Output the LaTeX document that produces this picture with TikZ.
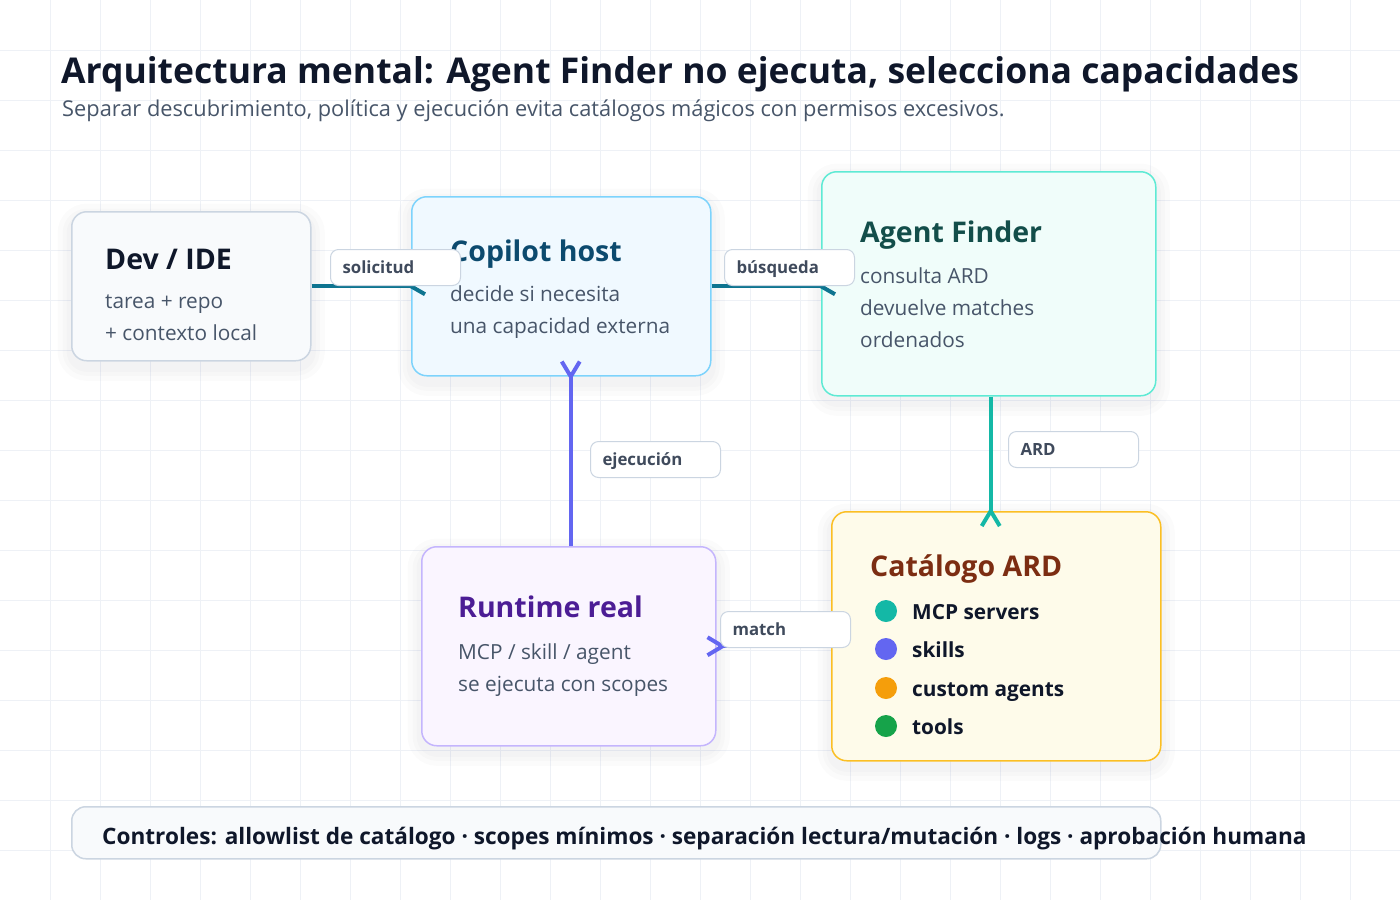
\documentclass[tikz,border=0pt]{standalone}
\usepackage{fontspec}
\setmainfont{Open Sans}
\definecolor{gridc}{HTML}{EEF1F6}
\definecolor{ink}{HTML}{0F172A}
\definecolor{muted}{HTML}{475569}
\definecolor{lblink}{HTML}{3F4A5C}
\definecolor{bord}{HTML}{CBD5E1}
\definecolor{devfill}{HTML}{F8FAFC}
\definecolor{copfill}{HTML}{F0F9FF}
\definecolor{copbord}{HTML}{7DD3FC}
\definecolor{coptitle}{HTML}{0C4A6E}
\definecolor{affill}{HTML}{F0FDFA}
\definecolor{afbord}{HTML}{5EEAD4}
\definecolor{aftitle}{HTML}{134E4A}
\definecolor{rtfill}{HTML}{FAF5FF}
\definecolor{rtbord}{HTML}{C4B5FD}
\definecolor{rttitle}{HTML}{4C1D95}
\definecolor{catfill}{HTML}{FEFBEA}
\definecolor{catbord}{HTML}{FBBF24}
\definecolor{cattitle}{HTML}{7C2D12}
\definecolor{cdark}{HTML}{0E7490}
\definecolor{cindigo}{HTML}{6366F1}
\definecolor{cteal}{HTML}{14B8A6}
\definecolor{camber}{HTML}{F59E0B}
\definecolor{cgreen}{HTML}{16A34A}
\definecolor{shade}{HTML}{1E293B}
\tikzset{
  box/.style={draw, line width=1.5pt, rounded corners=15pt, anchor=north west, inner sep=0pt},
  soft/.style={
    preaction={draw=shade, draw opacity=0.015, line width=28pt, transform canvas={yshift=-6pt}},
    preaction={draw=shade, draw opacity=0.015, line width=18pt, transform canvas={yshift=-6pt}},
    preaction={draw=shade, draw opacity=0.015, line width=10pt, transform canvas={yshift=-6pt}}},
  btitle/.style={anchor=base west, inner sep=0pt, font=\fontsize{28.5}{34}\selectfont\bfseries},
  bbody/.style={anchor=base west, inner sep=0pt, text=muted, font=\fontsize{20.8}{25}\selectfont},
  item/.style={anchor=base west, inner sep=0pt, text=ink, font=\fontsize{20.8}{25}\selectfont\bfseries},
  dot/.style={circle, minimum size=22pt, inner sep=0pt},
  lbl/.style={draw=bord, fill=white, line width=1pt, rounded corners=8pt, anchor=north west,
    text width=106pt, minimum height=36pt, inner xsep=12pt, inner ysep=0pt, align=left,
    text height=13pt, text depth=1pt,
    text=lblink, font=\fontsize{16.8}{19}\selectfont\bfseries},
  conn/.style={line width=4pt},
  barb/.style={line width=4pt}
}
\begin{document}
\begin{tikzpicture}[x=1pt,y=-1pt]
\useasboundingbox (0,0) rectangle (1400,900);
\fill[white] (0,0) rectangle (1400,900);
\foreach \g in {50,100,...,1350} \draw[gridc, line width=1pt] (\g,0) -- (\g,900);
\foreach \g in {50,100,...,850} \draw[gridc, line width=1pt] (0,\g) -- (1400,\g);

% title
\node[anchor=base west, inner sep=0pt, text=ink, font=\fontsize{35.5}{42}\selectfont\bfseries] (title) at (61,83)
  {Arquitectura mental: Agent Finder no ejecuta, selecciona capacidades};
\node[anchor=base west, inner sep=0pt, text=muted, font=\fontsize{21.8}{26}\selectfont] (subtitle) at (62,116)
  {Separar descubrimiento, política y ejecución evita catálogos mágicos con permisos excesivos.};

% boxes
\node[box, soft, fill=devfill, draw=bord, minimum width=239pt, minimum height=149pt] (dev) at (71,211) {};
\node[box, soft, fill=copfill, draw=copbord, minimum width=299pt, minimum height=179pt] (cop) at (411,196) {};
\node[box, soft, fill=affill, draw=afbord, minimum width=334pt, minimum height=224pt] (af) at (821,171) {};
\node[box, soft, fill=rtfill, draw=rtbord, minimum width=294pt, minimum height=199pt] (rt) at (421,546) {};
\node[box, soft, fill=catfill, draw=catbord, minimum width=329pt, minimum height=249pt] (cat) at (831,511) {};
\node[box, fill=devfill, draw=bord, minimum width=1089pt, minimum height=52pt, rounded corners=14pt] (foot) at (71,806) {};

% box texts
\node[btitle, text=ink] (devT) at (105,269) {Dev / IDE};
\node[bbody] (devA) at (105,308) {tarea + repo};
\node[bbody] (devB) at (105,340) {+ contexto local};

\node[btitle, text=coptitle] (copT) at (450,261) {Copilot host};
\node[bbody] (copA) at (450,301) {decide si necesita};
\node[bbody] (copB) at (450,333) {una capacidad externa};

\node[btitle, text=aftitle] (afT) at (860,242) {Agent Finder};
\node[bbody] (afA) at (860,283) {consulta ARD};
\node[bbody] (afB) at (860,315) {devuelve matches};
\node[bbody] (afC) at (860,347) {ordenados};

\node[btitle, text=rttitle] (rtT) at (458,617) {Runtime real};
\node[bbody] (rtA) at (458,659) {MCP / skill / agent};
\node[bbody] (rtB) at (458,691) {se ejecuta con scopes};

\node[btitle, text=cattitle] (catT) at (870,576) {Catálogo ARD};
\node[dot, fill=cteal] (d1) at (886,611) {};
\node[dot, fill=cindigo] (d2) at (886,649) {};
\node[dot, fill=camber] (d3) at (886,688) {};
\node[dot, fill=cgreen] (d4) at (886,726) {};
\node[item] (i1) at (912,619) {MCP servers};
\node[item] (i2) at (912,657) {skills};
\node[item] (i3) at (912,696) {custom agents};
\node[item] (i4) at (912,734) {tools};

% connectors
\draw[conn, cdark] (dev.east |- cop.west) -- (cop.west);
\draw[barb, cdark] ([xshift=14pt, yshift=8pt]cop.west) -- (cop.west) -- ([xshift=14pt, yshift=-8pt]cop.west);
\draw[conn, cdark] (cop.east) -- (cop.east -| af.west);
\coordinate (afin) at (cop.east -| af.west);
\draw[barb, cdark] ([xshift=14pt, yshift=8pt]afin) -- (afin) -- ([xshift=14pt, yshift=-8pt]afin);

\coordinate (rtin) at ([xshift=2pt]rt.north);
\coordinate (copout) at (cop.south -| rtin);
\draw[conn, cindigo] (rtin) -- (copout);
\draw[barb, cindigo] ([xshift=-9pt, yshift=15pt]copout) -- (copout) -- ([xshift=9pt, yshift=15pt]copout);

\coordinate (afout) at ([xshift=2pt]af.south);
\coordinate (catin) at (afout |- cat.north);
\draw[conn, cteal] (afout) -- (catin);
\draw[barb, cteal] ([xshift=-9pt, yshift=-15pt]catin) -- (catin) -- ([xshift=9pt, yshift=-15pt]catin);

\coordinate (rtout) at ([xshift=6pt]rt.east);
\draw[conn, cindigo] (cat.west |- rt.east) -- (rtout);
\draw[barb, cindigo] ([xshift=-15pt, yshift=9pt]rtout) -- (rtout) -- ([xshift=-15pt, yshift=-9pt]rtout);

% labels
\node[lbl] (l1) at (330,249) {solicitud};
\node[lbl] (l2) at (724,249) {búsqueda};
\node[lbl] (l3) at (590,441) {ejecución};
\node[lbl] (l4) at (1008,431) {ARD};
\node[lbl] (l5) at (720,611) {match};

% footer
\node[anchor=base west, inner sep=0pt, text=ink, font=\fontsize{22.6}{27}\selectfont\bfseries] (footT) at (102,844)
  {Controles: allowlist de catálogo · scopes mínimos · separación lectura/mutación · logs · aprobación humana};
\end{tikzpicture}
\end{document}
